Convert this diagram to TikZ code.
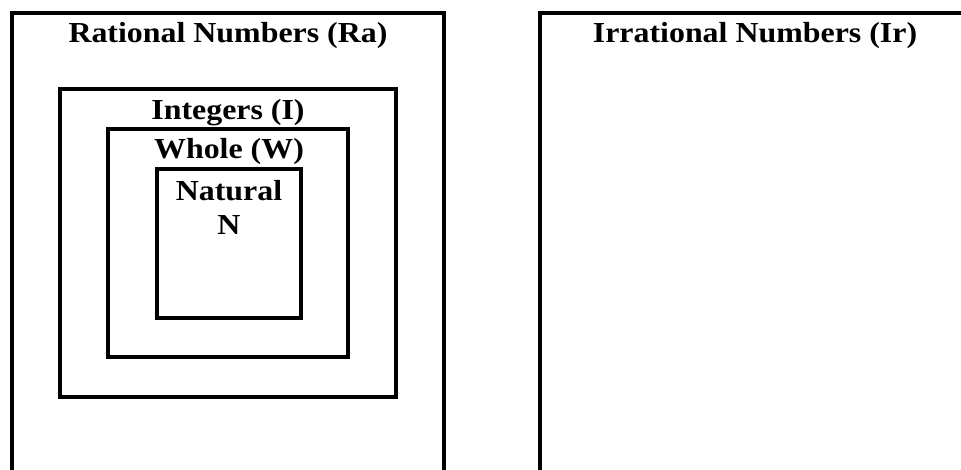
\documentclass[tikz,border=0pt]{standalone}
\usepackage{fontspec}
\setmainfont{Liberation Serif}
\newcommand{\widename}[1]{\scalebox{1.1}[1]{#1}}
\tikzset{
  setbox/.style={line width=3.5pt,line join=miter},
  setname/.style={anchor=base,inner sep=0pt,font=\fontsize{29}{32}\selectfont\bfseries},
}
\begin{document}
\begin{tikzpicture}[x=1pt,y=-1pt]
        \useasboundingbox (0,0) rectangle (961,470);
        \draw[setbox] (12,470)--(12,13)--(444,13)--(444,470); %Ra
        \draw[setbox] (540,470)--(540,13)--(961,13); %Ir
        \draw[setbox] (60,89) rectangle (396,397); %I
        \draw[setbox] (108,129) rectangle (348,357); %W
        \draw[setbox] (157,169) rectangle (301,318); %N
        \node[setname] (ra) at (228,43) {\widename{Rational Numbers (Ra)}};
        \node[setname] (ir) at (755,43) {\widename{Irrational Numbers (Ir)}};
        \node[setname] (int) at (228,120) {\widename{Integers (I)}};
        \node[setname] (whole) at (229,159) {\widename{Whole (W)}};
        \node[setname] (nat) at (229,201) {\widename{Natural}};
        \node[setname] (natN) at (229,235) {\widename{N}};
    \end{tikzpicture}
\end{document}
